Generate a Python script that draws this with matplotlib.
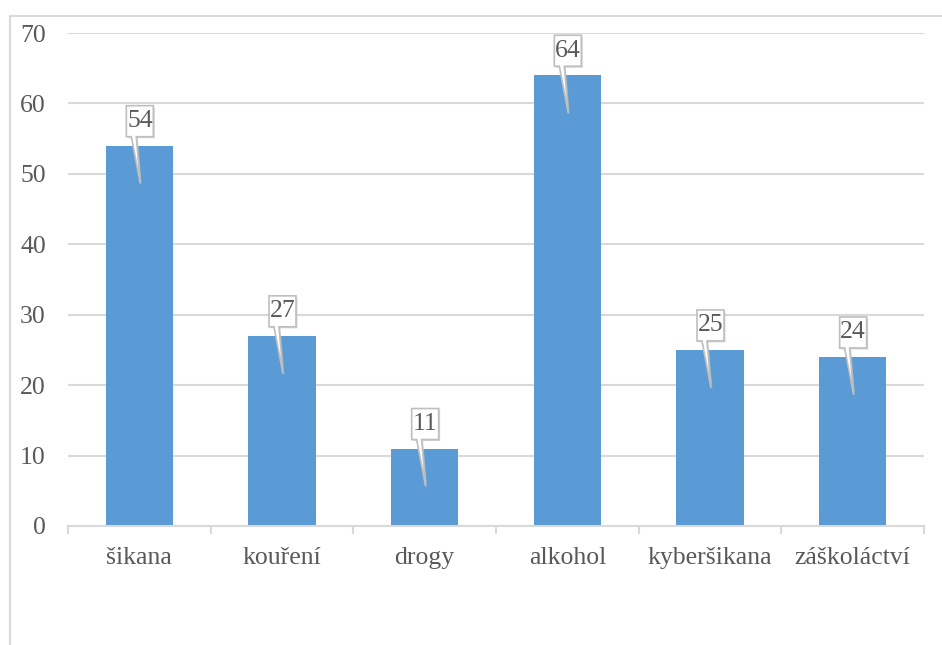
import matplotlib.pyplot as plt
import matplotlib.transforms as mtransforms
from matplotlib.patches import Polygon
from matplotlib.lines import Line2D

# data
kategorie = ["šikana", "kouření", "drogy", "alkohol", "kyberšikana", "záškoláctví"]
hodnoty = [54, 27, 11, 64, 25, 24]

plt.rcParams['font.family'] = ['Liberation Serif', 'DejaVu Serif']
seda = "#595959"
mrizka = "#d9d9d9"

fig = plt.figure(figsize=(9.42, 6.45), dpi=100)
ax = fig.add_axes([68/942, 1 - 526/645, 856/942, 493/645])

x = list(range(len(kategorie)))
ax.bar(x, hodnoty, width=0.47, color="#5b9bd5", zorder=2)

ax.set_xlim(-0.5, len(kategorie) - 0.5)
ax.set_ylim(0, 70)
ax.set_yticks(range(0, 71, 10))
ax.yaxis.grid(True, color=mrizka, lw=1.5, zorder=0)
ax.set_axisbelow(True)

for s in ["top", "right", "left"]:
    ax.spines[s].set_visible(False)
ax.spines["bottom"].set_color(mrizka)
ax.spines["bottom"].set_linewidth(1.5)

ax.tick_params(axis="y", length=0, pad=16, labelsize=18.5, labelcolor=seda)
ax.set_xticks(x)
ax.set_xticklabels(kategorie)
ax.tick_params(axis="x", length=0, pad=15, labelsize=18.5, labelcolor=seda)
# tick marks between categories
ax.set_xticks([i - 0.5 for i in range(len(kategorie) + 1)], minor=True)
ax.tick_params(axis="x", which="minor", length=6, width=1.5, color=mrizka)

# callouts (shape in inches, anchored at bar top)
tvar = [(-0.13, 0.40), (0.14, 0.40), (0.14, 0.09), (-0.03, 0.09),
        (0.01, -0.38), (-0.08, 0.09), (-0.13, 0.09)]
stin = [(px + 0.015, py - 0.015) for px, py in tvar]
for xi, v in zip(x, hodnoty):
    tr = fig.dpi_scale_trans + mtransforms.ScaledTranslation(xi, v, ax.transData)
    ax.add_patch(Polygon(stin, closed=True, transform=tr, facecolor="#bfbfbf",
                         edgecolor="none", alpha=0.6, zorder=3))
    ax.add_patch(Polygon(tvar, closed=True, transform=tr, facecolor="white",
                         edgecolor="#bfbfbf", lw=1.2, zorder=4))
    ax.text(0.005, 0.245, str(v), transform=tr, ha="center", va="center",
            fontsize=18.5, color=seda, zorder=5)

# outer chart border (left and top edges visible)
fig.add_artist(Line2D([10/942, 10/942], [0, 1 - 16/645], color=mrizka, lw=1.5,
                      transform=fig.transFigure))
fig.add_artist(Line2D([10/942, 1], [1 - 16/645, 1 - 16/645], color=mrizka, lw=1.5,
                      transform=fig.transFigure))

fig.savefig("out.png", dpi=100)
